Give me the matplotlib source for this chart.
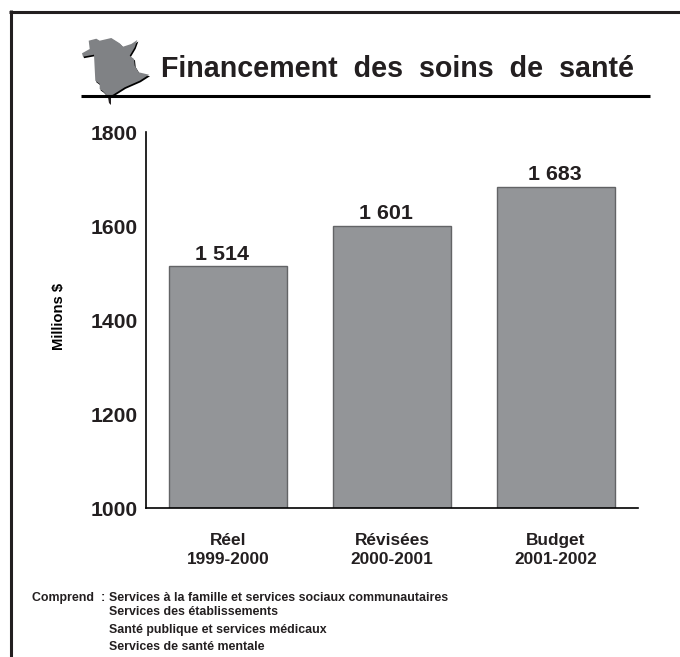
import matplotlib
matplotlib.use("Agg")
import matplotlib.pyplot as plt
from matplotlib.lines import Line2D
from matplotlib.patches import Polygon

plt.rcParams["font.family"] = ["Liberation Sans", "DejaVu Sans"]

# -----------------------------
# Data
# -----------------------------
categories = ["Réel\n1999-2000", "Révisées\n2000-2001", "Budget\n2001-2002"]
values = [1514, 1601, 1683]
value_labels = ["1 514", "1 601", "1 683"]
y_ticks = [1000, 1200, 1400, 1600, 1800]
title = "Financement  des  soins  de  santé"
footer_head = "Comprend  :"
footer_lines = [
    "Services à la famille et services sociaux communautaires",
    "Services des établissements",
    "Santé publique et services médicaux",
    "Services de santé mentale",
]
footer_rows = [598, 612, 630, 647]

W, H = 680, 657
TEXT = "#231f20"
fig = plt.figure(figsize=(W / 100, H / 100), dpi=100)

# pixel overlay, y going down like the reference
over = fig.add_axes([0, 0, 1, 1])
over.set_xlim(0, W)
over.set_ylim(H, 0)
over.axis("off")

# -----------------------------
# Bars
# -----------------------------
ax = fig.add_axes([146 / W, 1 - 508 / H, (638 - 146) / W, (508 - 132) / H])
ax.patch.set_alpha(0)
x = range(len(values))
ax.bar(x, values, width=0.715, color="#939598", edgecolor="#636466", linewidth=1)
ax.set_xlim(-0.5, 2.5)
ax.set_ylim(1000, 1800)
ax.set_yticks(y_ticks)
ax.set_xticks(list(x))
ax.set_xticklabels(categories, fontsize=12.4, fontweight="bold", color=TEXT, linespacing=1.33)
ax.tick_params(axis="x", length=0, pad=18)
ax.tick_params(axis="y", length=0, pad=6, labelsize=15.2, labelcolor=TEXT)
for lab in ax.get_yticklabels():
    lab.set_fontweight("bold")
ax.spines["top"].set_visible(False)
ax.spines["right"].set_visible(False)
ax.spines["left"].set_linewidth(1.2)
ax.spines["bottom"].set_linewidth(1.2)
label_dx = [-4.5, -4.5, -1]
for i, v in enumerate(values):
    ax.annotate(value_labels[i], (i, v), xytext=(label_dx[i], 2), textcoords="offset points",
                ha="center", va="bottom", fontsize=15.4, fontweight="bold", color=TEXT)
ax.set_ylabel("Millions $", fontsize=10.6, fontweight="bold", color="black")
ax.yaxis.set_label_coords((66 - 146) / (638 - 146), (508 - 316) / (508 - 132))

# -----------------------------
# Frame and title rule
# -----------------------------
over.add_line(Line2D([9, W], [11.5, 11.5], color="#231f20", lw=2.2, solid_capstyle="butt"))
over.add_line(Line2D([10.5, 10.5], [10, H], color="#231f20", lw=2.2, solid_capstyle="butt"))
over.add_line(Line2D([81, 650], [96, 96], color="black", lw=2.2, solid_capstyle="butt"))

# -----------------------------
# Province shape
# -----------------------------
shape = [(82, 53.3), (89.7, 49), (88.7, 40.7), (96.3, 38.7), (99.7, 40.7), (111.3, 38),
         (119.7, 43.3), (123, 46.7), (131.3, 44), (137.3, 40), (134.7, 47.3), (129.7, 55.7),
         (134, 59), (134.7, 65.7), (138.7, 72.3), (149, 74.7), (139.7, 80.7), (124.7, 87.3),
         (113, 94.7), (108, 96.7), (103, 91.3), (99.7, 89), (99.7, 84), (95.3, 80.7),
         (94, 54.7), (83, 56.7)]
over.add_patch(Polygon([(a + 1, b + 1.5) for a, b in shape], closed=True, color="black", lw=0))
over.add_patch(Polygon(shape, closed=True, color="#808285", lw=0))
over.add_patch(Polygon([(108, 97), (111, 98), (111, 105), (109, 103)], closed=True, color="#231f20", lw=0))

# -----------------------------
# Text
# -----------------------------
over.text(161, 69, title, fontsize=20.6, fontweight="bold", color=TEXT, va="center", ha="left")
over.text(32, footer_rows[0], footer_head, fontsize=8.9, fontweight="bold", color=TEXT, va="center")
for row, line in zip(footer_rows, footer_lines):
    over.text(109, row, line, fontsize=8.9, fontweight="bold", color=TEXT, va="center")

fig.savefig("out.png", dpi=100)
